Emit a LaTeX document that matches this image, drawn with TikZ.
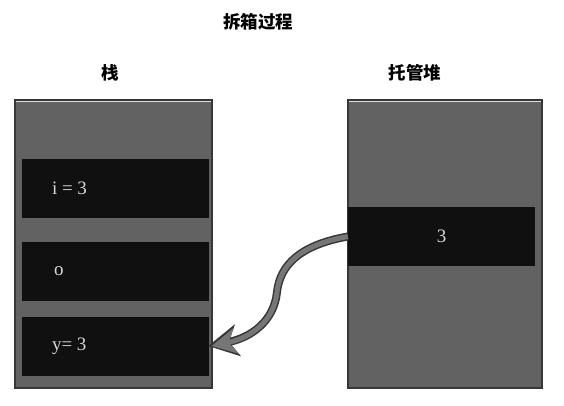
\documentclass[tikz,border=0pt]{standalone}
\usepackage{fontspec}
\setmainfont{Liberation Serif}
\newfontfamily\cjk{Noto Sans CJK SC}
\usetikzlibrary{positioning,arrows.meta}
\definecolor{boxgray}{RGB}{98,98,98}
\definecolor{bardark}{RGB}{16,16,16}
\definecolor{valtext}{RGB}{215,215,215}
\definecolor{arrowgray}{RGB}{118,118,118}
\definecolor{edgegray}{RGB}{55,55,55}
\tikzset{
	area/.style={draw=edgegray,line width=1.5pt,fill=boxgray,minimum width=197pt,minimum height=288pt,inner sep=0pt},
	slot/.style={fill=bardark,minimum width=187pt,minimum height=59pt,inner sep=0pt},
	val/.style={text=valtext,font=\fontsize{19}{22}\selectfont,inner sep=0pt,anchor=west},
	heading/.style={font=\cjk\bfseries\fontsize{17.5}{20}\selectfont}
}
\begin{document}
\begin{tikzpicture}[x=1pt,y=-1pt]
	\useasboundingbox[fill=white] (0,0) rectangle (564,406);
	\node[heading] (title) at (258,22) {拆箱过程};
	\node[heading] (stacktitle) at (110,73) {栈};
	\node[heading] (heaptitle) at (415,73) {托管堆};
	\node[area] (stack) at (113.5,244) {};
	\node[area,minimum width=194pt] (heap) at (445,244) {};
	\draw[white!75!gray,line width=0.8pt] ([xshift=2pt,yshift=-2pt]stack.north west) -- ([xshift=-2pt,yshift=-2pt]stack.north east);
	\draw[white!75!gray,line width=0.8pt] ([xshift=2pt,yshift=-2pt]heap.north west) -- ([xshift=-2pt,yshift=-2pt]heap.north east);
	\node[slot] (s1) at (115.5,188.5) {};
	\node[slot] (s2) at (115.5,271) {};
	\node[slot] (s3) at (115.5,346) {};
	\node[slot] (h1) at (441.5,236.5) {};
	\node[val,right=30pt of s1.west] (i) {i = 3};
	\node[val,right=32pt of s2.west] (o) {o};
	\node[val,right=30pt of s3.west] (y) {y= 3};
	\node[val,anchor=center] (boxed) at (h1.center) {3};
	\coordinate (start) at (h1.west);
	\coordinate (bend) at (277,292);
	\draw[edgegray,line width=8pt,-{Stealth[length=30pt,width=32pt,inset=9pt]}]
		(start) .. controls (300,245) and (280,265) .. (bend) .. controls (274,322) and (250,338) .. ([xshift=-1pt]s3.east);
	\draw[arrowgray,line width=5pt,-{Stealth[length=25pt,width=26pt,inset=8pt]}]
		(start) .. controls (300,245) and (280,265) .. (bend) .. controls (274,322) and (250,338) .. ([xshift=2.5pt]s3.east);
\end{tikzpicture}
\end{document}
